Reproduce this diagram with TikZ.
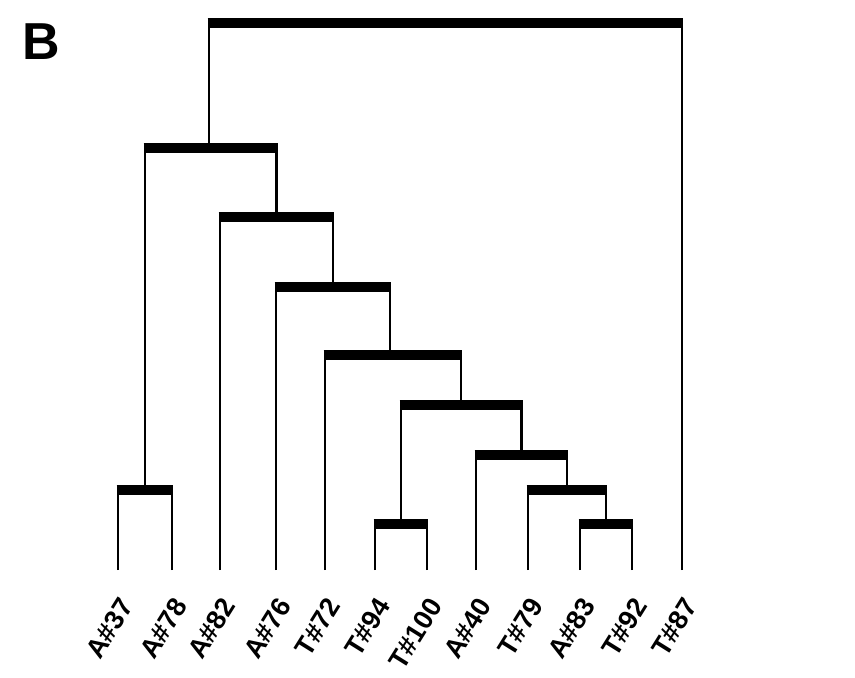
\documentclass[tikz,border=0pt]{standalone}
\usepackage{fontspec}
\setmainfont{Liberation Sans}
\usetikzlibrary{calc}
\newcommand\mrg[3]{%
  \draw[branch] (#1) -- (#1 |- #3);
  \draw[branch] (#2) -- (#2 |- #3);
  \draw[bar] ($(#1 |- #3)+(-1.4,0)$) -- ($(#2 |- #3)+(1.4,0)$);}
\begin{document}
\begin{tikzpicture}[x=1pt,y=-1pt,
  branch/.style={line width=2.6pt},
  bar/.style={line width=10pt},
  leaflabel/.style={font=\bfseries\fontsize{27}{27}\selectfont, rotate=58, anchor=east, inner sep=0pt}]
\useasboundingbox[fill=white] (0,0) rectangle (855,678);
\node[font=\bfseries\fontsize{52}{52}\selectfont, inner sep=0pt] (title) at (41,42) {B};
% leaves
\foreach \n/\x/\t in {1/118/A\#37,2/172/A\#78,3/220/A\#82,4/276/A\#76,5/325/T\#72,6/375/T\#94,7/427/T\#100,8/476/A\#40,9/528/T\#79,10/580/A\#83,11/632/T\#92,12/682/T\#87}{
  \coordinate (l\n) at (\x,570);
  \node[leaflabel] (t\n) at (\x+9,601) {\t};
}
% internal nodes
\coordinate (n1) at (145,490);
\coordinate (n2) at (401,524);
\coordinate (n3) at (606,524);
\coordinate (n4) at (567,490);
\coordinate (n5) at (521.5,455);
\coordinate (n6) at (461,405);
\coordinate (n7) at (390,355);
\coordinate (n8) at (333,287);
\coordinate (n9) at (276.5,217);
\coordinate (n10) at (209,148);
\coordinate (n11) at (446,23);
\mrg{l1}{l2}{n1}
\mrg{l6}{l7}{n2}
\mrg{l10}{l11}{n3}
\mrg{l9}{n3}{n4}
\mrg{l8}{n4}{n5}
\mrg{n2}{n5}{n6}
\mrg{l5}{n6}{n7}
\mrg{l4}{n7}{n8}
\mrg{l3}{n8}{n9}
\mrg{n1}{n9}{n10}
\mrg{n10}{l12}{n11}
\end{tikzpicture}
\end{document}
